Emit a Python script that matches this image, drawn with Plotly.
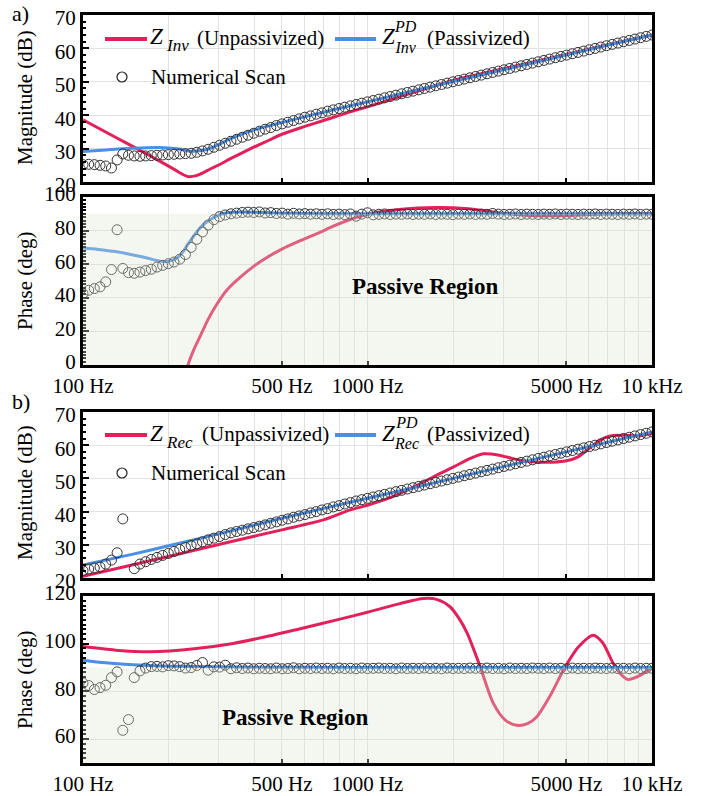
import plotly.graph_objects as go

# ---------------- data ----------------
scan_freq = [100, 104.7, 109.6, 114.8, 120.2, 125.9, 131.8, 138.0, 144.5, 151.4,
             158.5, 166.0, 173.8, 182.0, 190.5, 199.5, 208.9, 218.8, 229.1, 239.9,
             251.2, 263.0, 275.4, 288.4, 302.0, 316.2, 331.1, 346.7, 363.1, 380.2,
             398.1, 416.9, 436.5, 457.1, 478.6, 501.2, 524.8, 549.5, 575.4, 602.6,
             631.0, 660.7, 691.8, 724.4, 758.6, 794.3, 831.8, 871.0, 912.0, 955.0,
             1000, 1047, 1096, 1148, 1202, 1259, 1318, 1380, 1445, 1514,
             1585, 1660, 1738, 1820, 1905, 1995, 2089, 2188, 2291, 2399,
             2512, 2630, 2754, 2884, 3020, 3162, 3311, 3467, 3631, 3802,
             3981, 4169, 4365, 4571, 4786, 5012, 5248, 5495, 5754, 6026,
             6310, 6607, 6918, 7244, 7586, 7943, 8318, 8710, 9120, 9550,
             10000]

scan_a_mag = [25.2, 25.3, 25.2, 25.0, 24.8, 24.2, 26.6, 28.4, 28.0, 27.8,
              27.7, 27.8, 27.9, 28.0, 28.1, 28.2, 28.3, 28.4, 28.5, 28.6,
              28.9, 29.3, 29.8, 30.4, 31.0, 31.6, 32.2, 32.8, 33.4, 34.0,
              34.6, 35.2, 35.8, 36.3, 36.9, 37.4, 37.9, 38.4, 38.9, 39.4,
              39.8, 40.3, 40.7, 41.2, 41.6, 42.0, 42.4, 42.8, 43.2, 43.6,
              44.0, 44.4, 44.8, 45.2, 45.6, 46.0, 46.4, 46.8, 47.2, 47.6,
              48.0, 48.4, 48.8, 49.2, 49.6, 50.0, 50.4, 50.8, 51.2, 51.6,
              52.0, 52.4, 52.8, 53.2, 53.6, 54.0, 54.4, 54.8, 55.2, 55.6,
              56.0, 56.4, 56.8, 57.2, 57.6, 58.0, 58.4, 58.8, 59.2, 59.6,
              60.0, 60.4, 60.8, 61.2, 61.6, 62.0, 62.4, 62.8, 63.2, 63.6,
              64.0]

scan_a_phase = [42.5, 44.5, 45.5, 46.5, 49.5, 56.8, 80.5, 57.5, 55.0, 54.6,
                55.3, 56.2, 57.0, 58.3, 59.3, 60.3, 61.3, 63.0, 65.8, 70.0,
                74.8, 79.2, 83.3, 86.5, 88.3, 89.3, 90.0, 90.4, 90.8, 91.0,
                90.8, 91.1, 90.5, 90.7, 90.2, 90.4, 89.8, 90.3, 89.9, 90.1,
                89.8, 90.0, 89.7, 90.0, 89.6, 89.8, 89.5, 89.9, 88.6, 89.8,
                90.6, 89.4, 89.7, 89.9, 89.6, 89.8, 89.7, 89.9, 89.6, 89.8,
                89.7, 89.9, 89.6, 89.8, 89.7, 89.5, 89.8, 89.7, 89.9, 89.6,
                89.8, 89.7, 90.2, 89.8, 89.6, 89.7, 89.9, 89.6, 89.8, 89.7,
                89.6, 89.8, 89.7, 89.9, 89.6, 89.8, 89.7, 89.6, 89.8, 89.7,
                89.9, 89.6, 89.8, 89.7, 89.6, 89.8, 89.7, 89.9, 89.6, 89.8,
                89.7]

scan_b_mag = [22.2, 22.7, 23.0, 23.3, 24.2, 25.4, 27.6, 37.8, None, 22.8,
              24.2, 24.9, 25.6, 26.2, 26.8, 27.4, 28.0, 28.6, 29.2, 29.8,
              30.3, 30.9, 31.5, 32.0, 32.5, 33.1, 33.6, 34.0, 34.4, 34.8,
              35.2, 35.6, 36.0, 36.5, 36.9, 37.4, 37.8, 38.3, 38.7, 39.1,
              39.6, 40.0, 40.5, 40.9, 41.4, 41.8, 42.3, 42.7, 43.2, 43.6,
              44.0, 44.4, 44.8, 45.2, 45.6, 46.0, 46.4, 46.8, 47.2, 47.6,
              48.0, 48.4, 48.8, 49.2, 49.6, 50.0, 50.4, 50.8, 51.2, 51.6,
              52.0, 52.4, 52.8, 53.2, 53.6, 54.0, 54.4, 54.8, 55.2, 55.6,
              56.0, 56.4, 56.8, 57.2, 57.6, 58.0, 58.4, 58.8, 59.2, 59.6,
              60.0, 60.4, 60.8, 61.2, 61.6, 62.0, 62.4, 62.8, 63.2, 63.6,
              64.0]

scan_b_phase = [83.5, 82.5, 80.8, 81.6, 82.6, 85.8, 88.2, 63.7, 68.2, 85.8,
                88.6, 89.8, 90.4, 90.5, 90.3, 90.8, 90.7, 90.4, 89.8, 90.0,
                90.9, 92.1, 88.9, 90.3, 90.2, 91.0, 89.5, 89.9, 89.6, 89.8,
                89.5, 89.7, 89.6, 89.5, 89.8, 89.5, 89.6, 89.9, 89.5, 89.7,
                89.6, 89.8, 89.6, 89.7, 89.5, 89.8, 89.6, 89.7, 89.5, 89.8,
                89.6, 89.7, 89.8, 89.6, 89.7, 89.5, 89.8, 89.6, 89.7, 89.6,
                89.8, 89.6, 89.7, 89.5, 89.8, 89.6, 89.7, 89.6, 89.8, 89.7,
                89.6, 89.8, 89.6, 89.7, 89.5, 89.8, 89.6, 89.7, 89.6, 89.8,
                89.7, 89.6, 89.8, 89.6, 89.7, 89.5, 89.8, 89.6, 89.7, 89.6,
                89.8, 89.7, 89.6, 89.8, 89.6, 89.7, 89.5, 89.8, 89.6, 89.7,
                89.7]

# Panel a) inverter impedance curves
red_a_mag_f = [100, 130, 160, 190, 210, 225, 235, 250, 265, 280, 300, 330, 360, 400,
               450, 500, 600, 700, 870, 1000, 1500, 2000, 3000, 5000, 7000, 10000]
red_a_mag = [38.6, 33.4, 29.3, 25.8, 23.7, 22.2, 21.6, 21.9, 22.8, 23.9, 25.1, 27.0, 28.6, 30.5,
             32.5, 34.3, 36.6, 38.4, 41.0, 42.5, 47.2, 50.4, 53.9, 58.2, 61.1, 64.0]

blue_a_mag_f = [100, 120, 150, 186, 200, 220, 237, 260, 280, 300, 330, 360, 400, 450, 500,
                600, 700, 800, 1000, 1500, 2000, 3000, 5000, 7000, 10000]
blue_a_mag = [29.1, 29.6, 30.1, 30.3, 30.2, 29.8, 29.2, 29.4, 30.1, 31.2, 33.0, 34.3, 35.6, 36.8, 37.8,
              39.5, 40.9, 42.1, 44.0, 47.6, 50.1, 53.6, 58.0, 61.0, 64.0]

red_a_ph_f = [226, 234, 245, 258, 275, 295, 320, 350, 400, 443, 500, 580, 680, 755, 850, 941,
              1050, 1200, 1500, 1800, 2200, 2600, 3000, 3600, 4200, 5000, 6000, 7500, 10000]
red_a_ph = [-12, 0, 9, 17, 27, 36, 44.5, 51, 59, 64, 69, 74, 79, 82.5, 86, 88.5,
            90.5, 92, 93.5, 93.8, 93.2, 91.8, 90.3, 89.2, 88.8, 89.0, 89.6, 90.0, 90.0]

blue_a_ph_f = [100, 113, 130, 150, 168, 180, 190, 200, 214, 225, 232, 242, 251, 262, 273,
               283, 291, 300, 310, 330, 360, 400, 450, 500, 600, 800, 1000, 2000, 5000, 10000]
blue_a_ph = [69.6, 68.8, 67.5, 65.5, 63.7, 62.4, 61.6, 61.7, 63.7, 67.5, 71.0, 75.5, 79.2, 82.8, 85.3,
             87.0, 88.2, 89.2, 90.0, 90.8, 91.0, 90.9, 90.6, 90.4, 90.2, 90.0, 90.0, 90.0, 90.0, 90.0]

# Panel b) rectifier impedance curves
red_b_mag_f = [100, 150, 200, 300, 500, 700, 870, 1000, 1200, 1500, 1800, 2000, 2300, 2550,
               2900, 3300, 3800, 4500, 5000, 5500, 6200, 6800, 7300, 8000, 9000, 10000]
red_b_mag = [20.5, 24.0, 26.5, 30.1, 34.5, 37.5, 40.5, 41.9, 44.2, 48.0, 51.5, 53.4, 56.0, 57.4,
             57.0, 55.8, 55.0, 54.9, 55.3, 56.5, 60.0, 62.2, 62.9, 63.0, 62.8, 63.6]

blue_b_mag_f = [100, 150, 200, 300, 500, 1000, 2000, 5000, 10000]
blue_b_mag = [23.9, 27.2, 29.7, 33.3, 38.0, 44.0, 50.0, 58.0, 64.0]

red_b_ph_f = [100, 130, 172, 250, 337, 450, 580, 800, 1000, 1300, 1570, 1750, 1950, 2100, 2240,
              2490, 2770, 3050, 3345, 3650, 3930, 4400, 4880, 5500, 6220, 6700, 7310, 7800,
              8250, 9000, 10000]
red_b_ph = [98.8, 97.3, 96.6, 98.0, 100.1, 103.2, 106.3, 110.3, 113.2, 116.8, 119.0, 118.6, 115.5,
            110.5, 104.4, 90.3, 75.0, 68.0, 65.8, 66.5, 69.3, 78.5, 88.9, 98.5, 103.6, 100.5,
            91.7, 87.0, 85.0, 86.5, 90.0]

blue_b_ph_f = [100, 120, 150, 200, 300, 500, 1000, 10000]
blue_b_ph = [93.1, 92.0, 91.2, 90.6, 90.3, 90.1, 90.0, 90.0]

x_tick_vals = [100, 500, 1000, 5000, 10000]
x_tick_text = ["100 Hz", "500 Hz", "1000 Hz", "5000 Hz", "10 kHz"]
x_grid_minor = [200, 300, 400, 600, 700, 800, 900, 2000, 3000, 4000, 6000, 7000, 8000, 9000]

# ---------------- style ----------------
W, H = 713, 796
RED = "#E2215B"
BLUE = "#4A8FE6"
GRID = "#e2e2e2"
FONT = "Liberation Serif"


def px(x):
    return x / W


def py(y):
    return 1 - y / H


XDOM = [px(83), px(652)]
panels = {
    1: [py(182), py(15)],   # a magnitude
    2: [py(365), py(197)],  # a phase
    3: [py(578), py(412)],  # b magnitude
    4: [py(763), py(596)],  # b phase
}

fig = go.Figure()


def add_panel(n, red_f, red_v, blue_f, blue_v, scan_v):
    xa = "x" if n == 1 else f"x{n}"
    ya = "y" if n == 1 else f"y{n}"
    fig.add_trace(go.Scatter(x=red_f, y=red_v, mode="lines", xaxis=xa, yaxis=ya,
                             line=dict(color=RED, width=3, shape="spline", smoothing=0.8),
                             showlegend=False, hoverinfo="skip"))
    fig.add_trace(go.Scatter(x=blue_f, y=blue_v, mode="lines", xaxis=xa, yaxis=ya,
                             line=dict(color=BLUE, width=3, shape="spline", smoothing=0.8),
                             showlegend=False, hoverinfo="skip"))
    fig.add_trace(go.Scatter(x=scan_freq, y=scan_v, mode="markers", xaxis=xa, yaxis=ya,
                             marker=dict(symbol="circle-open", size=10, color="#333333",
                                         line=dict(width=1, color="#333333")),
                             showlegend=False, hoverinfo="skip"))


add_panel(1, red_a_mag_f, red_a_mag, blue_a_mag_f, blue_a_mag, scan_a_mag)
add_panel(2, red_a_ph_f, red_a_ph, blue_a_ph_f, blue_a_ph, scan_a_phase)
add_panel(3, red_b_mag_f, red_b_mag, blue_b_mag_f, blue_b_mag, scan_b_mag)
add_panel(4, red_b_ph_f, red_b_ph, blue_b_ph_f, blue_b_ph, scan_b_phase)

tickfont = dict(family=FONT, size=21, color="black")
axis_common = dict(showline=True, mirror=True, linewidth=3, linecolor="black",
                   showgrid=True, gridcolor=GRID, gridwidth=1, zeroline=False,
                   ticks="inside", ticklen=5, tickwidth=1.5, tickcolor="black",
                   tickfont=tickfont, automargin=False)

yranges = {1: [20, 70], 2: [0, 100], 3: [20, 70], 4: [50, 120]}
ydticks = {1: 10, 2: 20, 3: 10, 4: 20}
yshift = {1: 3, 2: -3, 3: 3, 4: -3}

layout_axes = {}
for n in range(1, 5):
    xname = "xaxis" if n == 1 else f"xaxis{n}"
    yname = "yaxis" if n == 1 else f"yaxis{n}"
    xa = "x" if n == 1 else f"x{n}"
    ya = "y" if n == 1 else f"y{n}"
    layout_axes[xname] = dict(axis_common, type="log", range=[2, 4], domain=XDOM, anchor=ya,
                              tickmode="array", tickvals=x_tick_vals, ticktext=x_tick_text,
                              showticklabels=(n in (2, 4)), ticklen=4,
                              minor=dict(tickmode="array", tickvals=x_grid_minor, showgrid=True,
                                         gridcolor=GRID, gridwidth=1, ticks=""))
    layout_axes[yname] = dict(axis_common, range=yranges[n], domain=panels[n], anchor=xa,
                              dtick=ydticks[n], tick0=0, ticklen=6, ticklabelshift=yshift[n],
                              minor=dict(dtick=2, ticks="inside", ticklen=3, tickcolor="black",
                                         tickwidth=1.5, showgrid=False))

shapes = []
# passive region shading (phase panels)
for n, y0 in ((2, 0), (4, 50)):
    xa = f"x{n}"
    ya = f"y{n}"
    shapes.append(dict(type="rect", xref=f"{xa} domain", yref=ya, x0=0, x1=1, y0=y0, y1=90,
                       fillcolor="rgba(220,229,208,0.32)", line=dict(width=0), layer="above"))

annotations = []


def ann(text, x, y, size=20, xanchor="left", yanchor="middle", **kw):
    annotations.append(dict(text=text, x=px(x), y=py(y), xref="paper", yref="paper",
                            xanchor=xanchor, yanchor=yanchor, showarrow=False,
                            font=dict(family=FONT, size=size, color="black"), **kw))


# legends (built in paper coordinates)
for off, sub, tx in ((0, "Inv", 195), (396, "Rec", 200)):
    # white legend background
    shapes.append(dict(type="rect", xref="paper", yref="paper", x0=px(86), x1=px(538),
                       y0=py(18 + off), y1=py(55 + off), fillcolor="white",
                       line=dict(width=0), layer="between"))
    shapes.append(dict(type="rect", xref="paper", yref="paper", x0=px(86), x1=px(290),
                       y0=py(55 + off), y1=py(90 + off), fillcolor="white",
                       line=dict(width=0), layer="between"))
    shapes.append(dict(type="line", xref="paper", yref="paper", x0=px(105), x1=px(147),
                       y0=py(39 + off), y1=py(39 + off), line=dict(color=RED, width=4)))
    shapes.append(dict(type="line", xref="paper", yref="paper", x0=px(335), x1=px(376),
                       y0=py(39 + off), y1=py(39 + off), line=dict(color=BLUE, width=4)))
    shapes.append(dict(type="circle", xref="paper", yref="paper", x0=px(117), x1=px(127),
                       y0=py(72 + off), y1=py(82 + off), line=dict(color="#222222", width=1.2)))
    ann("<i>Z</i>", 148, 37 + off, size=23)
    ann(f"<i>{sub}</i>", 164, 46 + off, size=17)
    ann("(Unpassivized)", tx, 38 + off, size=21)
    ann("<i>Z</i>", 380, 37 + off, size=23)
    ann(f"<i>PD</i><br><i>{sub}</i>", 392, 37 + off, size=16)
    ann("(Passivized)", 425, 38 + off, size=21)
    ann("Numerical Scan", 149, 77 + off, size=21)

ann("<b>Passive Region</b>", 425, 286, size=23, xanchor="center")
ann("<b>Passive Region</b>", 295, 717, size=23, xanchor="center")
ann("a)", 10, 13, size=22)
ann("b)", 10, 401, size=22)
for yc in (98, 493):
    ann("Magnitude (dB)", 25, yc, size=21, xanchor="center", textangle=-90)
for yc in (281, 680):
    ann("Phase (deg)", 25, yc, size=21, xanchor="center", textangle=-90)

fig.update_layout(width=W, height=H, margin=dict(l=0, r=0, t=0, b=0, autoexpand=False),
                  paper_bgcolor="white", plot_bgcolor="white",
                  font=dict(family=FONT, size=20, color="black"),
                  shapes=shapes, annotations=annotations, **layout_axes)

fig.write_html("out.html", config={"displayModeBar": False},
               post_script="document.body.style.margin='0px';document.body.style.padding='0px';")
